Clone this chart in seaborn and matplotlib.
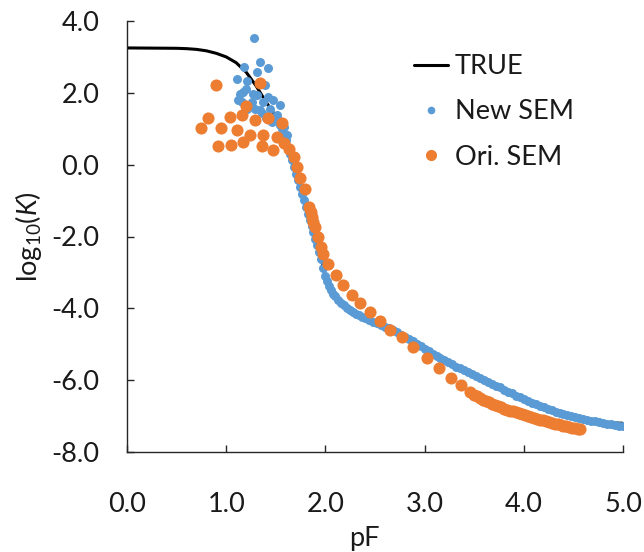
import matplotlib
matplotlib.use("Agg")
import matplotlib.pyplot as plt
import seaborn as sns
import pandas as pd
from matplotlib.lines import Line2D

# ---------------- data ----------------
true_pf = [0.0, 0.5, 0.6, 0.7, 0.8, 0.9, 1.0, 1.1, 1.2, 1.3, 1.4, 1.5, 1.55, 1.6, 1.65,
           1.7, 1.75, 1.8, 1.85, 1.9, 1.95, 2.0, 2.05, 2.1, 2.15, 2.2, 2.3, 2.4, 2.5,
           2.6, 2.7, 2.8, 2.9, 3.0, 3.1, 3.2, 3.3, 3.4, 3.5, 3.6, 3.7, 3.8, 3.9, 4.0,
           4.1, 4.2, 4.3, 4.4, 4.5, 4.6, 4.7, 4.8, 4.9, 5.0]
true_logk = [3.25, 3.24, 3.23, 3.21, 3.17, 3.10, 3.00, 2.84, 2.58, 2.20, 1.75, 1.35, 1.05,
             0.68, 0.22, -0.25, -0.72, -1.18, -1.62, -2.06, -2.52, -3.10, -3.45, -3.66,
             -3.82, -3.94, -4.13, -4.28, -4.40, -4.51, -4.62, -4.79, -4.96, -5.13, -5.30,
             -5.45, -5.60, -5.74, -5.89, -6.04, -6.18, -6.32, -6.45, -6.57, -6.68, -6.78,
             -6.87, -6.95, -7.02, -7.08, -7.13, -7.17, -7.19, -7.20]

new_pf = [1.28, 1.34, 1.42, 1.18, 1.31, 1.11, 1.21, 1.20, 1.39, 1.14, 1.31, 1.42, 1.16,
          1.26, 1.37, 1.47, 1.34, 1.44, 1.54, 1.29, 1.51, 1.58, 1.61, 1.12, 1.21, 1.17,
          1.27, 1.36, 1.24, 1.40, 1.46,
          1.50, 1.52, 1.54, 1.56, 1.58, 1.60, 1.62, 1.64, 1.66, 1.68, 1.70, 1.72, 1.74,
          1.76, 1.78, 1.80, 1.82, 1.84, 1.86, 1.88, 1.90, 1.92, 1.94, 1.96, 1.98, 2.00,
          2.02, 2.04, 2.06, 2.08, 2.10, 2.13, 2.16, 2.19, 2.22, 2.25, 2.28, 2.31, 2.34,
          2.37, 2.40, 2.44, 2.48, 2.52, 2.56, 2.60, 2.64, 2.68, 2.72, 2.76, 2.80, 2.84,
          2.88, 2.92, 2.96, 3.00, 3.04, 3.08, 3.12, 3.16, 3.20, 3.24, 3.28, 3.32, 3.36,
          3.40, 3.44, 3.48, 3.52, 3.56, 3.60, 3.64, 3.68, 3.72, 3.76, 3.80, 3.84, 3.88,
          3.92, 3.96, 4.00, 4.04, 4.08, 4.12, 4.16, 4.20, 4.24, 4.28, 4.32, 4.36, 4.40,
          4.44, 4.48, 4.52, 4.56, 4.60, 4.64, 4.68, 4.72, 4.76, 4.80, 4.84, 4.88, 4.92,
          4.96, 5.00]
new_logk = [3.53, 2.85, 2.70, 2.71, 2.57, 2.38, 2.33, 2.12, 2.21, 1.98, 1.94, 1.89, 1.75,
            1.75, 1.75, 1.80, 1.52, 1.56, 1.66, 1.56, 1.38, 1.05, 0.82, 1.80, 1.56, 2.03,
            1.98, 1.43, 1.62, 1.30, 1.20,
            1.35, 1.23, 1.11, 0.98, 0.84, 0.68, 0.50, 0.31, 0.13, -0.06, -0.25, -0.44,
            -0.63, -0.81, -0.99, -1.18, -1.36, -1.53, -1.71, -1.88, -2.06, -2.24, -2.42,
            -2.62, -2.88, -3.10, -3.24, -3.38, -3.50, -3.59, -3.66, -3.76, -3.85, -3.92,
            -3.98, -4.04, -4.10, -4.15, -4.19, -4.24, -4.28, -4.33, -4.38, -4.42, -4.46,
            -4.51, -4.55, -4.60, -4.66, -4.73, -4.79, -4.86, -4.92, -4.99, -5.06, -5.13,
            -5.20, -5.27, -5.33, -5.39, -5.44, -5.50, -5.56, -5.62, -5.67, -5.72, -5.78,
            -5.83, -5.89, -5.94, -5.99, -6.04, -6.10, -6.15, -6.20, -6.26, -6.32, -6.37,
            -6.43, -6.48, -6.53, -6.58, -6.63, -6.67, -6.72, -6.76, -6.80, -6.84, -6.88,
            -6.91, -6.94, -6.97, -7.00, -7.03, -7.06, -7.08, -7.10, -7.13, -7.15, -7.17,
            -7.19, -7.21, -7.23, -7.25, -7.27, -7.29]

ori_pf = [0.90, 1.34, 1.20, 0.82, 0.75, 0.95, 1.04, 1.16, 1.11, 1.29, 1.42, 1.56, 1.24,
          1.37, 1.51, 0.92, 1.05, 1.17, 1.36, 1.47, 1.58, 1.63, 1.68, 1.71, 1.74, 1.79,
          1.83, 1.85, 1.86, 1.88, 1.90, 1.93, 1.96, 1.98, 2.03, 2.11, 2.18, 2.27, 2.35,
          2.45, 2.55, 2.65, 2.77, 2.88, 3.02, 3.15, 3.27, 3.37, 3.46, 3.50, 3.53, 3.56,
          3.59, 3.62, 3.65, 3.68, 3.71, 3.74, 3.77, 3.80, 3.83, 3.86, 3.89, 3.92, 3.95,
          3.98, 4.01, 4.04, 4.07, 4.10, 4.13, 4.16, 4.19, 4.22, 4.25, 4.28, 4.31, 4.34,
          4.37, 4.40, 4.43, 4.46, 4.49, 4.52, 4.55, 4.57]
ori_logk = [2.23, 2.28, 1.63, 1.29, 1.01, 1.03, 1.33, 1.38, 0.96, 1.24, 1.29, 1.15, 0.82,
            0.82, 0.77, 0.51, 0.54, 0.63, 0.51, 0.40, 0.59, 0.45, 0.21, -0.06, -0.38,
            -0.67, -1.18, -1.32, -1.46, -1.60, -1.74, -2.02, -2.30, -2.48, -2.76, -3.08,
            -3.36, -3.64, -3.86, -4.09, -4.34, -4.60, -4.81, -5.09, -5.37, -5.65, -5.93,
            -6.13, -6.32, -6.40, -6.45, -6.50, -6.54, -6.58, -6.62, -6.66, -6.70, -6.73,
            -6.76, -6.79, -6.82, -6.85, -6.87, -6.90, -6.92, -6.95, -6.98, -7.00, -7.03,
            -7.05, -7.08, -7.10, -7.12, -7.15, -7.17, -7.19, -7.21, -7.23, -7.25, -7.27,
            -7.29, -7.31, -7.32, -7.34, -7.35, -7.36]

x_ticks = [0.0, 1.0, 2.0, 3.0, 4.0, 5.0]
y_ticks = [-8.0, -6.0, -4.0, -2.0, 0.0, 2.0, 4.0]
series_labels = ["TRUE", "New SEM", "Ori. SEM"]

# ---------------- style ----------------
sns.set_style("ticks")
plt.rcParams["font.family"] = ["Lato", "DejaVu Sans"]
plt.rcParams["mathtext.fontset"] = "custom"
plt.rcParams["mathtext.rm"] = "Lato"
plt.rcParams["mathtext.it"] = "Lato:italic"
plt.rcParams["axes.unicode_minus"] = False

BLUE = "#5B9BD5"
ORANGE = "#ED7D31"
FS = 19.5

fig = plt.figure(figsize=(6.44, 5.52), dpi=100)
ax = fig.add_axes([127 / 644, 1 - 452 / 552, (623 - 127) / 644, (452 - 21) / 552])

df_true = pd.DataFrame({"pF": true_pf, "logK": true_logk})
df_new = pd.DataFrame({"pF": new_pf, "logK": new_logk})
df_ori = pd.DataFrame({"pF": ori_pf, "logK": ori_logk})

sns.lineplot(data=df_true, x="pF", y="logK", sort=False, color="black", linewidth=2.2,
             ax=ax, zorder=1)
sns.scatterplot(data=df_new, x="pF", y="logK", color=BLUE, s=42, linewidth=0, ax=ax,
                zorder=2)
sns.scatterplot(data=df_ori, x="pF", y="logK", color=ORANGE, s=76, linewidth=0, ax=ax,
                zorder=3)

ax.set_xlim(0, 5)
ax.set_ylim(-8, 4)
ax.set_xticks(x_ticks)
ax.set_yticks(y_ticks)
ax.set_xticklabels([f"{v:.1f}" for v in x_ticks])
ax.set_yticklabels([f"{v:.1f}" for v in y_ticks])
ax.tick_params(axis="both", direction="in", length=5, width=1, color="#262626",
               labelsize=FS, labelcolor="#1a1a1a")
ax.tick_params(axis="x", pad=29)
ax.tick_params(axis="y", pad=20)
for s in ["top", "right"]:
    ax.spines[s].set_visible(False)
for s in ["left", "bottom"]:
    ax.spines[s].set_linewidth(1)
    ax.spines[s].set_color("#262626")

ax.set_xlabel("pF", fontsize=FS, color="#1a1a1a")
ax.set_ylabel("log$_{10}$($K$)", fontsize=FS, color="#1a1a1a")
ax.xaxis.set_label_coords((364 - 127) / 496, -(526 - 452) / 431)
ax.yaxis.set_label_coords(-(127 - 44) / 496, 0.5)

handles = [
    Line2D([0], [0], color="black", linewidth=2.2),
    Line2D([0], [0], color=BLUE, marker="o", linestyle="none", markersize=4.5),
    Line2D([0], [0], color=ORANGE, marker="o", linestyle="none", markersize=7),
]
leg = fig.legend(handles, series_labels, loc="upper left",
                 bbox_to_anchor=(414 / 644, 1 - 54 / 552), frameon=False,
                 fontsize=FS, handlelength=1.25, handletextpad=0.25, labelspacing=0.75,
                 borderaxespad=0, borderpad=0)
for t in leg.get_texts():
    t.set_color("#1a1a1a")

fig.savefig("out.png", dpi=100)
